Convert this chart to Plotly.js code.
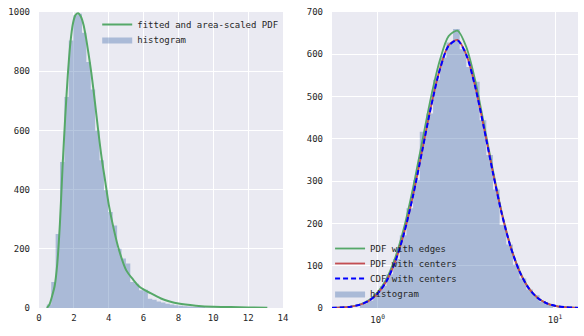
<!DOCTYPE html>
<html><head><meta charset="utf-8">
<script src="https://cdn.plot.ly/plotly-3.0.1.min.js"></script>
<style>html,body{margin:0;padding:0;background:#fff}#c{width:584px;height:336px}</style>
</head><body><div id="c"></div>
<script>
// ---- left panel: histogram (linear bins) ----
var leftEdges = [0.45,0.702,0.954,1.206,1.458,1.71,1.962,2.214,2.466,2.718,2.97,3.222,3.474,3.726,3.978,4.23,4.482,4.734,4.986,5.238,5.49,5.742,5.994,6.246,6.498,6.75,7.002,7.254,7.506,7.758,8.01,8.262,8.514,8.766,9.018,9.27,9.522,9.774,10.026,10.278,10.53,10.782,11.034,11.286,11.538,11.79,12.042,12.294,12.546,12.798,13.05];
var leftCounts = [12,88,250,493,713,904,989,994,930,831,738,600,499,398,324,279,200,167,150,88,82,60,62,31,28,22,19,14,12,9,8,6,5,4,3,3,2,2,1,1,1,0,1,0,0,0,0,0,0,1];
// fitted and area-scaled PDF
var leftPdfX = [0.45,0.6,0.75,0.9,1.05,1.2,1.35,1.5,1.65,1.8,1.95,2.1,2.25,2.4,2.55,2.7,2.85,3.0,3.2,3.4,3.6,3.8,4.0,4.3,4.6,5.0,5.4,5.8,6.4,7.0,7.5,8.0,9.0,10.0,11.0,12.0,13.1];
var leftPdfY = [0,12,40,75,151,285,475,640,785,895,962,990,996,985,958,912,856,795,700,598,505,428,350,264,194,128,96,70,50,32,22,15,8,4,3,2,1];

// ---- right panel: histogram (log bins) ----
var rightEdges = [0.7943,0.8660,0.9441,1.0292,1.1220,1.2232,1.3335,1.4537,1.5849,1.7278,1.8836,2.0535,2.2387,2.4406,2.6607,2.9007,3.1623,3.4475,3.7584,4.0973,4.4668,4.8697,5.3088,5.7876,6.3096,6.8786,7.4989,8.1752,8.9125,9.7161];
var rightCounts = [10,17,33,52,80,116,172,236,302,417,460,540,592,628,660,612,570,535,444,362,280,196,150,102,70,44,30,14,8];
// curves
var curveX = [0.55,0.631,0.708,0.794,0.891,1.0,1.122,1.259,1.413,1.585,1.778,1.995,2.239,2.512,2.818,3.162,3.548,3.981,4.467,5.012,5.623,6.310,7.079,7.943,8.913,10.0,11.22,12.59,13.5];
var pdfEdgesY   = [0.4,1.4,3.5,8.3,18.2,37,69,120,192,285,391,497,585,643,656,617,538,433,325,225,145,87,48,24.5,11.5,5,2,0.8,0.4];
var pdfCentersY = [0.4,1.3,3.2,7.7,16.8,34,63.8,111,179,267,370,475,564,621,634,599,524,425,320,223,144,86,47.6,24.4,11.6,5.1,2.1,0.8,0.4];
var cdfCentersY = [0.4,1.3,3.2,7.7,16.8,34,63.5,110.5,178.5,266.5,369,474,563,620,633,598,523,424,319,222,143.5,86,47.5,24.3,11.6,5.1,2.1,0.8,0.4];

var leftTickVals = [0,2,4,6,8,10,12,14];
var rightTickVals = [1,10];
var rightTickText = ['10<sup>0</sup>','10<sup>1</sup>'];

var histFill = 'rgba(76,114,176,0.4)';
function stepY(c){ return c.concat([c[c.length-1]]); }

var traces = [
  {x: leftEdges, y: stepY(leftCounts), type:'scatter', mode:'lines', line:{shape:'hv', width:0, color:histFill},
   fill:'tozeroy', fillcolor:histFill, name:'histogram', xaxis:'x', yaxis:'y', legend:'legend2'},
  {x: leftPdfX, y: leftPdfY, type:'scatter', mode:'lines', line:{shape:'spline', smoothing:0.8, width:2, color:'#55A868'},
   name:'fitted and area-scaled PDF', xaxis:'x', yaxis:'y', legend:'legend'},
  {x: rightEdges, y: stepY(rightCounts), type:'scatter', mode:'lines', line:{shape:'hv', width:0, color:histFill},
   fill:'tozeroy', fillcolor:histFill, name:'histogram', xaxis:'x2', yaxis:'y2', legend:'legend6'},
  {x: curveX, y: pdfEdgesY, type:'scatter', mode:'lines', line:{shape:'spline', smoothing:0.8, width:1.8, color:'#55A868'},
   name:'PDF with edges', xaxis:'x2', yaxis:'y2', legend:'legend3'},
  {x: curveX, y: pdfCentersY, type:'scatter', mode:'lines', line:{shape:'spline', smoothing:0.8, width:1.8, color:'#C44E52'},
   name:'PDF with centers', xaxis:'x2', yaxis:'y2', legend:'legend4'},
  {x: curveX, y: cdfCentersY, type:'scatter', mode:'lines', line:{shape:'spline', smoothing:0.8, width:2, color:'#0000FF', dash:'5px,3px'},
   name:'CDF with centers', xaxis:'x2', yaxis:'y2', legend:'legend5'}
];

var axBase = {showgrid:true, gridcolor:'#ffffff', gridwidth:1, zeroline:false, showline:false, ticks:'', 
  tickfont:{size:9, color:'#262626'}};

function leg(x, y){
  return {x:x, xanchor:'left', y:y, yanchor:'top', bgcolor:'rgba(0,0,0,0)', borderwidth:0,
    font:{size:9, color:'#262626'}};
}

var layout = {
  width:584, height:336,
  margin:{l:39, r:6, t:12, b:28},
  paper_bgcolor:'#ffffff', plot_bgcolor:'#EAEAF2',
  font:{family:'DejaVu Sans Mono, monospace', size:9, color:'#262626'},
  showlegend:true,
  hovermode:false,
  xaxis: Object.assign({}, axBase, {domain:[0,0.4527], range:[0,14], tickvals:leftTickVals, ticklabelstandoff:3}),
  yaxis: Object.assign({}, axBase, {range:[0,1000], dtick:200, tick0:0, ticklabelstandoff:8}),
  xaxis2: Object.assign({}, axBase, {domain:[0.5436,1], type:'log', range:[-0.257,1.129], tickvals:rightTickVals, ticktext:rightTickText, ticklabelstandoff:5, anchor:'y2'}),
  yaxis2: Object.assign({}, axBase, {anchor:'x2', range:[0,700], dtick:100, tick0:0, ticklabelstandoff:8}),
  legend: leg(0.108, 1.0068),
  legend2: leg(0.108, 0.956),
  legend3: leg(0.54, 0.25),
  legend4: leg(0.54, 0.1993),
  legend5: leg(0.54, 0.1486),
  legend6: leg(0.54, 0.098)
};

Plotly.newPlot('c', traces, layout, {staticPlot:true, displayModeBar:false});
</script>
</body></html>
